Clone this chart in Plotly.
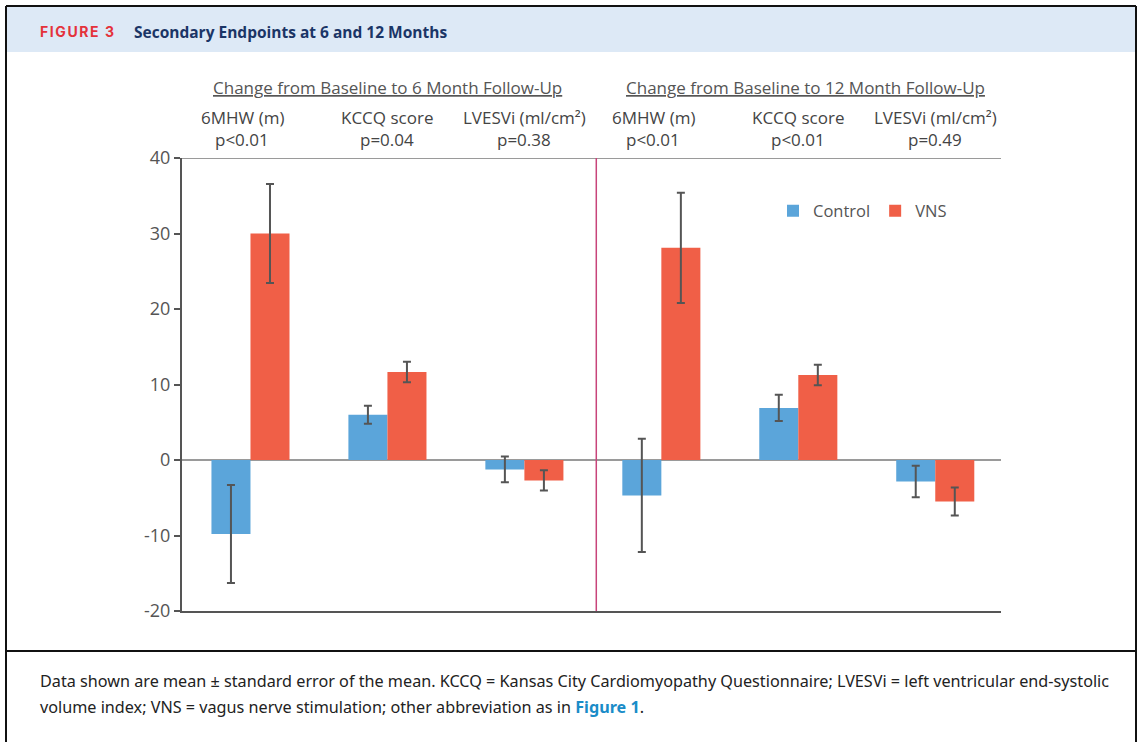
import plotly.graph_objects as go

# ---- data -------------------------------------------------------------
group_pos = [0, 1, 2, 3, 4, 5]
endpoint_labels = ["6MHW (m)", "KCCQ score", "LVESVi (ml/cm²)",
                   "6MHW (m)", "KCCQ score", "LVESVi (ml/cm²)"]
p_values = ["p<0.01", "p=0.04", "p=0.38", "p<0.01", "p<0.01", "p=0.49"]
control_mean = [-9.8, 6.0, -1.25, -4.7, 6.9, -2.85]
control_sem = [6.5, 1.2, 1.7, 7.5, 1.75, 2.1]
vns_mean = [30.0, 11.65, -2.7, 28.1, 11.25, -5.5]
vns_sem = [6.55, 1.35, 1.35, 7.3, 1.35, 1.85]
panel_titles = ["Change from Baseline to 6 Month Follow-Up",
                "Change from Baseline to 12 Month Follow-Up"]
y_ticks = [-20, -10, 0, 10, 20, 30, 40]
y_tick_text = ["-20", "-10", "0", "10", "20", "30", "40"]

# ---- page geometry (pixels) -------------------------------------------
W, H = 1143, 742
L, R, T, B = 182, 1001, 158, 611


def px(x):
    return (x - L) / (R - L)


def py(y):
    return 1 - (y - T) / (B - T)


FONT = "Open Sans"
BLUE = "#5ba5da"
RED = "#f05f47"
ERR = dict(type="data", color="#555555", thickness=2, width=4)

fig = go.Figure()
fig.add_trace(go.Bar(x=group_pos, y=control_mean, name="Control",
                     marker_color=BLUE, marker_line_width=0,
                     error_y=dict(array=control_sem, **ERR)))
fig.add_trace(go.Bar(x=group_pos, y=vns_mean, name="VNS",
                     marker_color=RED, marker_line_width=0,
                     error_y=dict(array=vns_sem, **ERR)))

shapes = [
    # header band
    dict(type="rect", xref="paper", yref="paper", x0=px(7), x1=px(1135),
         y0=py(7), y1=py(52), fillcolor="#dde9f6", line_width=0, layer="below"),
    # outer frame and caption separator
    dict(type="line", xref="paper", yref="paper", x0=px(6), x1=px(6),
         y0=py(6), y1=py(742), line=dict(color="#111", width=2)),
    dict(type="line", xref="paper", yref="paper", x0=px(1136), x1=px(1136),
         y0=py(6), y1=py(742), line=dict(color="#111", width=2)),
    dict(type="line", xref="paper", yref="paper", x0=px(6), x1=px(1136),
         y0=py(6), y1=py(6), line=dict(color="#111", width=2)),
    dict(type="line", xref="paper", yref="paper", x0=px(6), x1=px(1136),
         y0=py(651), y1=py(651), line=dict(color="#111", width=2)),
    # top border of plotting area
    dict(type="line", xref="paper", yref="y", x0=0, x1=1, y0=40, y1=40,
         line=dict(color="#9a9a9a", width=2)),
    # divider between 6 and 12 month panels
    dict(type="line", xref="x", yref="y", x0=2.525, x1=2.525, y0=-20, y1=40,
         line=dict(color="#c8447a", width=1.5)),
]

ann = [
    dict(text="<b><span style='letter-spacing:1.6px'>FIGURE 3</span></b>",
         x=px(38), y=py(32), xref="paper", yref="paper",
         xanchor="left", yanchor="middle", showarrow=False,
         font=dict(family="Inter", size=14, color="#e4323b")),
    dict(text="<b>Secondary Endpoints at 6 and 12 Months</b>", x=px(132), y=py(32),
         xref="paper", yref="paper", xanchor="left", yanchor="middle",
         showarrow=False, font=dict(family=FONT, size=15.5, color="#1b3566")),
]

for title, cx in zip(panel_titles, [387, 805]):
    ann.append(dict(text="<u>" + title + "</u>", x=px(cx), y=py(87),
                    xref="paper", yref="paper", xanchor="center", yanchor="middle",
                    showarrow=False, font=dict(family=FONT, size=17, color="#555")))

for xp, lab, pv in zip(group_pos, endpoint_labels, p_values):
    shift = -8 if lab.startswith("6MHW") else 0
    ann.append(dict(text=lab, x=xp, y=py(117), xref="x", yref="paper",
                    xanchor="center", yanchor="middle", xshift=shift,
                    showarrow=False, font=dict(family=FONT, size=17, color="#444")))
    ann.append(dict(text=pv, x=xp, y=py(139), xref="x", yref="paper",
                    xanchor="center", yanchor="middle", xshift=shift,
                    showarrow=False, font=dict(family=FONT, size=17, color="#444")))

caption_1 = ("Data shown are mean ± standard error of the mean. KCCQ = Kansas City "
             "Cardiomyopathy Questionnaire; LVESVi = left ventricular end-systolic")
caption_2 = ("volume index; VNS = vagus nerve stimulation; other abbreviation as in "
             "<b><span style='color:#1a8cc8'>Figure 1</span></b>.")
for txt, yy in [(caption_1, 681), (caption_2, 707)]:
    ann.append(dict(text=txt, x=px(38), y=py(yy), xref="paper", yref="paper",
                    xanchor="left", yanchor="middle", showarrow=False,
                    font=dict(family="Noto Sans", size=16.2, color="#222")))

fig.update_layout(
    width=W, height=H,
    margin=dict(l=L, r=W - R, t=T, b=H - B, autoexpand=False),
    paper_bgcolor="white", plot_bgcolor="white",
    barmode="group", bargap=0.43, bargroupgap=0,
    font=dict(family=FONT, color="#555"),
    xaxis=dict(range=[-0.5, 5.48], showticklabels=False, ticks="",
               showgrid=False, zeroline=False, showline=True,
               linecolor="#555", linewidth=2),
    yaxis=dict(range=[-20, 40], tickvals=y_ticks, ticktext=y_tick_text,
               ticks="outside", ticklen=6,
               tickcolor="#555", tickwidth=1.5, showgrid=False,
               zeroline=True, zerolinecolor="#9a9a9a", zerolinewidth=2,
               showline=True, linecolor="#555", linewidth=2,
               tickfont=dict(family=FONT, size=18, color="#555")),
    legend=dict(orientation="h", x=px(773), y=py(211), xanchor="left",
                yanchor="middle", font=dict(family=FONT, size=16.5, color="#555"),
                bgcolor="rgba(0,0,0,0)", itemwidth=30, traceorder="normal"),
    shapes=shapes, annotations=ann,
)

fig.write_html("out.html")
